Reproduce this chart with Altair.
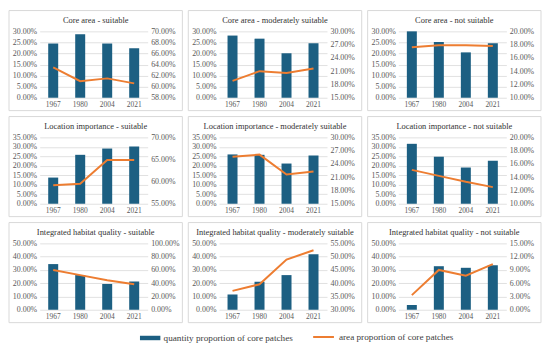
import altair as alt
import pandas as pd

years = ["1967", "1980", "2004", "2021"]
titles = [
    "Core area - suitable", "Core area - moderately suitable", "Core area - not suitable",
    "Location importance - suitable", "Location importance - moderately suitable", "Location importance - not suitable",
    "Integrated habitat quality - suitable", "Integrated habitat quality - moderately suitable", "Integrated habitat quality - not suitable",
]
# quantity proportion of core patches (%), left axis
qty = [
    [24.5, 28.7, 24.5, 22.4], [28.1, 26.7, 20.1, 24.6], [30.0, 25.2, 20.5, 24.6],
    [13.8, 25.8, 29.1, 30.2], [26.0, 25.8, 21.2, 25.5], [31.6, 24.8, 19.1, 22.7],
    [34.4, 26.1, 19.4, 21.3], [11.5, 21.1, 26.1, 41.9], [3.6, 32.8, 31.6, 33.5],
]
# area proportion of core patches (%), right axis
area = [
    [63.5, 61.0, 61.5, 60.6], [18.8, 21.0, 20.6, 21.6], [17.6, 17.9, 17.9, 17.8],
    [59.2, 59.5, 64.9, 64.9], [25.6, 26.1, 21.6, 22.3], [15.1, 14.2, 13.3, 12.5],
    [59.8, 52.2, 44.5, 38.3], [37.1, 39.6, 48.9, 52.4], [3.3, 9.0, 7.7, 10.3],
]
left_max = [30, 30, 30, 35, 35, 35, 50, 50, 50]
left_step = [5, 5, 5, 5, 5, 5, 10, 10, 10]
right_min = [58, 15, 10, 55, 15, 10, 0, 30, 0]
right_max = [70, 30, 20, 70, 30, 20, 100, 55, 15]
right_step = [2, 3, 2, 5, 3, 2, 20, 5, 3]

QTY = "quantity proportion of core patches"
AREA = "area proportion of core patches"
BLUE = "#1c5f82"
ORANGE = "#ed7d31"
FONT = "Liberation Serif, Times New Roman, serif"
W, H = 109, 67


def ticks(lo, hi, step):
    n = int(round((hi - lo) / step))
    return [round((lo + k * step) / 100, 4) for k in range(n + 1)]


def panel(i):
    df = pd.DataFrame({
        "year": years,
        "qty": [v / 100 for v in qty[i]],
        "area": [v / 100 for v in area[i]],
        "s1": QTY,
        "s2": AREA,
    })
    base = alt.Chart(df)
    x = alt.X("year:N", sort=years, title=None,
              scale=alt.Scale(paddingInner=0.63, paddingOuter=0.315),
              axis=alt.Axis(labelAngle=0, ticks=False, domain=False, labelPadding=3, labelFontSize=7.5))
    bars = base.mark_bar().encode(
        x=x,
        y=alt.Y("qty:Q", title=None,
                scale=alt.Scale(domain=[0, left_max[i] / 100], nice=False),
                axis=alt.Axis(orient="left", values=ticks(0, left_max[i], left_step[i]),
                              format=".2%", grid=True, domain=False, ticks=False, labelPadding=3)),
        fill=alt.Fill("s1:N", scale=alt.Scale(domain=[QTY], range=[BLUE]),
                      legend=alt.Legend(title=None, orient="none", legendX=106, legendY=304,
                                        symbolType="M-1.88,-0.41L1.88,-0.41L1.88,0.41L-1.88,0.41Z",
                                        symbolSize=120, symbolStrokeWidth=0, labelOffset=8,
                                        labelFont=FONT, labelFontSize=9.3, labelColor="#404040")),
    )
    line = base.mark_line(strokeWidth=2).encode(
        x=x,
        y=alt.Y("area:Q", title=None,
                scale=alt.Scale(domain=[right_min[i] / 100, right_max[i] / 100], nice=False, zero=False),
                axis=alt.Axis(orient="right", values=ticks(right_min[i], right_max[i], right_step[i]),
                              format=".2%", grid=False, domain=False, ticks=False, labelPadding=3)),
        stroke=alt.Stroke("s2:N", scale=alt.Scale(domain=[AREA], range=[ORANGE]),
                          legend=alt.Legend(title=None, orient="none", legendX=275, legendY=297,
                                            symbolType="stroke", symbolSize=441, symbolStrokeWidth=2,
                                            labelOffset=4,
                                            labelFont=FONT, labelFontSize=9.3, labelColor="#404040")),
    )
    one = alt.Chart(pd.DataFrame({"t": [titles[i]]}))
    border = one.mark_rect(
        fillOpacity=0, stroke="#d9d9d9", strokeWidth=1
    ).encode(x=alt.value(-31), x2=alt.value(W + 35), y=alt.value(-21), y2=alt.value(H + 13))
    title = one.mark_text(font=FONT, fontSize=8.5, color="#333333", align="center", baseline="middle").encode(
        text="t:N", x=alt.value(W / 2 + 2), y=alt.value(-11))
    return alt.layer(border, title, bars, line).properties(width=W, height=H).resolve_scale(y="independent")


rows = [alt.hconcat(*[panel(r * 3 + c) for c in range(3)], spacing=4) for r in range(3)]
chart = alt.vconcat(*rows, spacing=4).properties(
    padding={"left": 0, "top": 0, "right": 0, "bottom": 0}
).configure_view(strokeWidth=0).configure_axis(
    labelFont=FONT, labelFontSize=8, labelColor="#595959", gridColor="#d9d9d9", gridWidth=0.8
).configure_concat(spacing=4)

chart.save("out.html", embed_options={"renderer": "svg", "actions": False})
